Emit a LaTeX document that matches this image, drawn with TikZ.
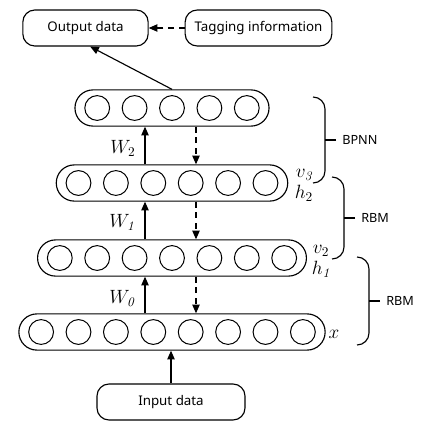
\documentclass[tikz,border=0pt]{standalone}
\usepackage{amsmath}
\usepackage{fontspec}
\setsansfont{Noto Sans}
\usepackage{tikz}
\usetikzlibrary{arrows.meta,positioning,calc,fit}

\tikzset{
  unit/.style={circle, draw, line width=0.75pt, minimum size=18.6pt, inner sep=0pt},
  layer/.style={draw, line width=0.85pt, rounded corners=13.5pt, inner xsep=7pt, inner ysep=3.9pt},
  databox/.style={draw, line width=0.85pt, rounded corners=9pt, minimum height=27pt, font=\sffamily\fontsize{10}{12}\selectfont},
  wlabel/.style={font=\fontsize{14}{14}\selectfont, inner sep=1pt},
  brlabel/.style={font=\sffamily\fontsize{9.5}{11}\selectfont, anchor=west, inner sep=4.5pt},
  fwd/.style={-{Triangle[length=6.5pt,width=5.5pt]}, line width=0.85pt},
  back/.style={fwd, dash pattern=on 4.5pt off 3.5pt},
}

\begin{document}
\begin{tikzpicture}[x=0.75pt, y=-0.75pt]
\useasboundingbox (0,0) rectangle (429,429);
% layers, bottom (x) up to the BPNN layer
\foreach \l/\n/\y in {0/8/332, 1/7/258, 2/6/183, 3/5/108} {
  \foreach \i in {1,...,\n} {
    \pgfmathsetmacro{\cx}{172+(\i-(\n+1)/2)*37.4}
    \node[unit] (c\l-\i) at (\cx,\y) {};
  }
  \node[layer, fit=(c\l-1)(c\l-\n)] (L\l) {};
}

\node[databox, minimum width=94pt] (out) at (85.5,28) {Output data};
\node[databox, minimum width=110pt] (tag) at (258.5,28) {Tagging information};
\node[databox, minimum width=111pt] (in) at (171,402) {Input data};

% up / down passes between layers
\coordinate (up) at (145,0);
\coordinate (down) at (196,0);
\foreach \a/\b in {0/1,1/2,2/3} {
  \draw[fwd] (L\a.north -| up) -- (L\b.south -| up);
  \draw[back] (L\b.south -| down) -- (L\a.north -| down);
}
\draw[fwd] (in.north) -- (L0.south -| in.north);
\draw[fwd] (L3.north) -- ([xshift=3.5pt]out.south);
\draw[back] (tag.west) -- (out.east);

\node[wlabel] (w2) at (123,148) {$W_2$};
\node[wlabel] (w1) at (122,222) {$W_{\mathit{1}}$};
\node[wlabel] (w0) at (122,299) {$W_{\mathit{0}}$};

\node[wlabel] (v3) at (304,175) {$v_{\mathit{3}}$};
\node[wlabel] (h2) at (304,193) {$h_2$};
\node[wlabel] (v2) at (321,251) {$v_2$};
\node[wlabel] (h1) at (321,269) {$h_{\mathit{1}}$};
\node[wlabel] (x0) at (334,334) {$x$};

% braces
\foreach \bx/\bt/\bb/\bl [count=\k] in {313/97/183/BPNN, 332/177/259/RBM, 357/257/345/RBM} {
  \draw[line width=0.85pt] (\bx,\bt) to[out=0,in=90] (\bx+12,\bt+12) -- (\bx+12,\bb-12) to[out=-90,in=0] (\bx,\bb);
  \coordinate (tip\k) at (\bx+23,{(\bt+\bb)/2});
  \draw[line width=0.85pt] (tip\k) -- ++(-11,0);
  \node[brlabel] (br\k) at (tip\k) {\bl};
}
\end{tikzpicture}
\end{document}
